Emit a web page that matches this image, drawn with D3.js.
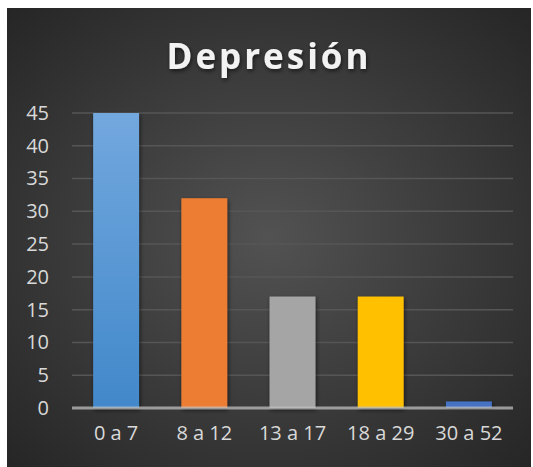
<!DOCTYPE html>
<html>
<head>
<meta charset="utf-8">
<script src="https://cdn.jsdelivr.net/npm/d3@7"></script>
<style>
  body { margin: 0; background: #fff; }
  svg { display: block; }
</style>
</head>
<body>
<svg id="chart"></svg>
<script>
// Chart data
const categories = ["0 a 7", "8 a 12", "13 a 17", "18 a 29", "30 a 52"];
const values = [45, 32, 17, 17, 1];
const barColors = ["url(#blueGrad)", "#ed7d31", "#a5a5a5", "#ffc000", "#4472c4"];
const yTicks = [0, 5, 10, 15, 20, 25, 30, 35, 40, 45];
const title = "Depresión";

const W = 533, H = 467;
const margin = { top: 113, right: 20, bottom: 59, left: 72 };
const width = 513 - margin.left;
const height = 408 - margin.top;

const svg = d3.select("#chart").attr("width", W).attr("height", H);

// Gradients
const defs = svg.append("defs");
const bg = defs.append("radialGradient").attr("id", "bgGrad")
  .attr("cx", "50%").attr("cy", "50%").attr("r", "70%");
bg.append("stop").attr("offset", "0%").attr("stop-color", "#525252");
bg.append("stop").attr("offset", "100%").attr("stop-color", "#262626");

const blue = defs.append("linearGradient").attr("id", "blueGrad")
  .attr("x1", 0).attr("y1", 0).attr("x2", 0).attr("y2", 1);
blue.append("stop").attr("offset", "0%").attr("stop-color", "#72a8de");
blue.append("stop").attr("offset", "100%").attr("stop-color", "#4288ca");

const shadow = defs.append("filter").attr("id", "shadow")
  .attr("x", "-20%").attr("y", "-20%").attr("width", "140%").attr("height", "140%");
shadow.append("feDropShadow").attr("dx", 1).attr("dy", 2).attr("stdDeviation", 2)
  .attr("flood-color", "#000").attr("flood-opacity", 0.6);

// Background
svg.append("rect")
  .attr("x", 7).attr("y", 8)
  .attr("width", W - 9).attr("height", H - 8)
  .attr("fill", "url(#bgGrad)");

// Title
svg.append("text")
  .attr("x", 269).attr("y", 69)
  .attr("text-anchor", "middle")
  .attr("font-family", "'Open Sans', sans-serif")
  .attr("font-weight", 700)
  .attr("font-size", 35)
  .attr("letter-spacing", 3)
  .attr("fill", "#f2f2f2")
  .attr("filter", "url(#shadow)")
  .text(title);

const g = svg.append("g")
  .attr("transform", "translate(" + margin.left + "," + margin.top + ")");

// Scales
const x = d3.scaleBand()
  .domain(categories)
  .range([0, width])
  .paddingInner(0.48)
  .paddingOuter(0.24);

const y = d3.scaleLinear()
  .domain([0, 45])
  .range([height, 0]);

// Gridlines
g.selectAll(".grid")
  .data(yTicks.filter((t) => t > 0))
  .enter()
  .append("line")
  .attr("class", "grid")
  .attr("x1", 0).attr("x2", width)
  .attr("y1", (d) => y(d)).attr("y2", (d) => y(d))
  .attr("stroke", "#565656")
  .attr("stroke-width", 1.5);

// Bars
g.selectAll(".bar")
  .data(values)
  .enter()
  .append("rect")
  .attr("class", "bar")
  .attr("x", (d, i) => x(categories[i]))
  .attr("y", (d) => y(d))
  .attr("width", x.bandwidth())
  .attr("height", (d) => height - y(d))
  .attr("fill", (d, i) => barColors[i])
  .attr("filter", "url(#shadow)");

// Baseline
g.append("line")
  .attr("x1", 0).attr("x2", width)
  .attr("y1", y(0)).attr("y2", y(0))
  .attr("stroke", "#bfbfbf")
  .attr("stroke-opacity", 0.75)
  .attr("stroke-width", 3);

// Y axis
const yAxis = g.append("g")
  .call(d3.axisLeft(y).tickValues(yTicks).tickSize(0).tickPadding(23));
yAxis.select(".domain").remove();
yAxis.selectAll("text")
  .attr("font-family", "'Open Sans', sans-serif")
  .attr("font-size", 20)
  .attr("fill", "#d9d9d9");

// X axis
const xAxis = g.append("g")
  .attr("transform", "translate(0," + height + ")")
  .call(d3.axisBottom(x).tickSize(0).tickPadding(18));
xAxis.select(".domain").remove();
xAxis.selectAll("text")
  .attr("font-family", "'Open Sans', sans-serif")
  .attr("font-size", 20)
  .attr("fill", "#d9d9d9");
</script>
</body>
</html>
